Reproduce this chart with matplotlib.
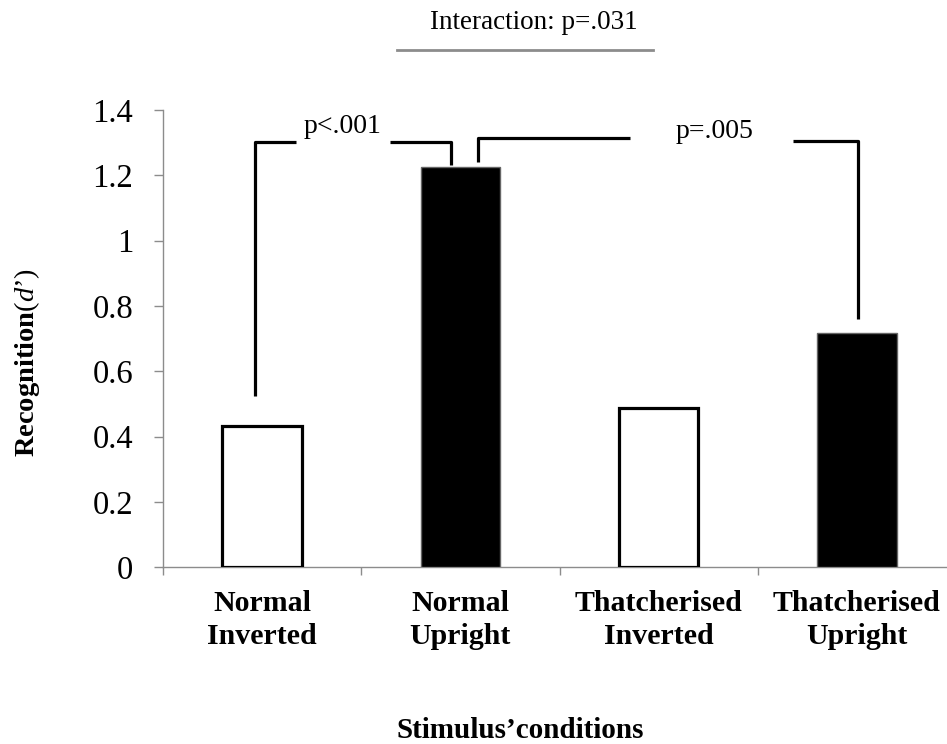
import matplotlib.pyplot as plt
import numpy as np

plt.rcParams['font.family'] = ['Liberation Serif', 'DejaVu Serif']
plt.rcParams['mathtext.fontset'] = 'custom'
plt.rcParams['mathtext.rm'] = 'Liberation Serif'
plt.rcParams['mathtext.bf'] = 'Liberation Serif:bold'
plt.rcParams['mathtext.it'] = 'Liberation Serif:italic'

conditions = ['Normal\nInverted', 'Normal\nUpright',
              'Thatcherised\nInverted', 'Thatcherised\nUpright']
dprime = [0.433, 1.225, 0.489, 0.718]
upright = [False, True, False, True]

yticks = [0, 0.2, 0.4, 0.6, 0.8, 1.0, 1.2, 1.4]
ytick_labels = ['0', '0.2', '0.4', '0.6', '0.8', '1', '1.2', '1.4']

# comparison brackets: (left x, right x, left foot, right foot, top left, top right,
#                       gap start, gap end, label x, label y, label)
brackets = [
    (-0.036, 0.953, 0.525, 1.232, 1.303, 1.303, 0.171, 0.645, 0.408, 1.329, 'p<.001'),
    (1.089, 3.006, 1.241, 0.760, 1.315, 1.306, 1.856, 2.678, 2.284, 1.313, 'p=.005'),
]

fig = plt.figure(figsize=(9.47, 7.44), dpi=100)
ax = fig.add_axes([163 / 947, (744 - 567.3) / 744, 793 / 947, 457.3 / 744])

x = np.arange(len(conditions))
for xi, val, up in zip(x, dprime, upright):
    if up:
        ax.bar(xi, val, width=0.4, color='black', edgecolor='#666666', linewidth=1.0, zorder=3)
    else:
        ax.bar(xi, val, width=0.4, color='white', edgecolor='black', linewidth=2.3, zorder=3)

for (xl, xr, fl, fr, tl, tr, g0, g1, lx, ly, lab) in brackets:
    ax.plot([xl, xl, g0], [fl, tl, tl], color='black', lw=2.3, solid_capstyle='butt', zorder=4)
    ax.plot([g1, xr, xr], [tr, tr, fr], color='black', lw=2.3, solid_capstyle='butt', zorder=4)
    ax.text(lx, ly, lab, ha='center', va='baseline', fontsize=20)

ax.set_xlim(-0.5, 3.5)
ax.set_ylim(0, 1.4)
ax.set_yticks(yticks)
ax.set_yticklabels(ytick_labels, fontsize=23.5)
ax.set_xticks(x)
ax.set_xticklabels(conditions, fontsize=21.5, fontweight='bold', linespacing=1.3)
ax.set_xticks(np.arange(-0.5, 4, 1), minor=True)

for s in ['top', 'right']:
    ax.spines[s].set_visible(False)
for s in ['left', 'bottom']:
    ax.spines[s].set_color('#8c8c8c')
    ax.spines[s].set_linewidth(1.0)

ax.tick_params(axis='y', direction='out', length=6.5, width=1.0, color='#8c8c8c', pad=15)
ax.tick_params(axis='x', which='major', length=0, pad=16)
ax.tick_params(axis='x', which='minor', direction='out', length=5.5, width=1.0, color='#8c8c8c')

fig.text(27 / 947, 1 - 362 / 744, r'$\mathbf{Recognition}\mathit{(d’)}$',
         rotation=90, ha='center', va='center', fontsize=20.5)
fig.text(520 / 947, 1 - 738 / 744, 'Stimulus’conditions', ha='center', va='baseline',
         fontsize=21, fontweight='bold')

# interaction note above the plot
fig.text(534 / 947, 1 - 29 / 744, 'Interaction: p=.031', ha='center', va='baseline', fontsize=19.5)
fig.add_artist(plt.Line2D([397 / 947, 653 / 947], [1 - 50 / 744, 1 - 50 / 744],
                          color='#8c8c8c', lw=2.0, transform=fig.transFigure))

fig.savefig('out.png', dpi=100)
